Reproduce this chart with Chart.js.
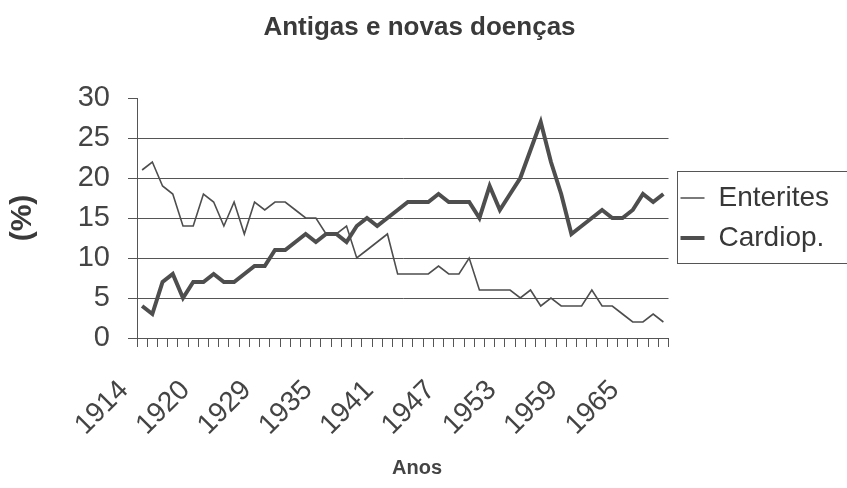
<!DOCTYPE html>
<html>
<head>
<meta charset="utf-8">
<title>Antigas e novas doenças</title>
<script src="https://cdn.jsdelivr.net/npm/chart.js@4/dist/chart.umd.min.js"></script>
<style>
  html, body { margin: 0; padding: 0; background: #fff; }
  #wrap { width: 847px; height: 488px; position: relative; }
</style>
</head>
<body>
<div id="wrap"><canvas id="chart"></canvas></div>
<script>
// years on the category axis (a few early years are missing from the series)
const years = [
  1914, 1915, 1916, 1917, 1918, 1919, 1920, 1924, 1925, 1926, 1927, 1928,
  1929, 1930, 1931, 1932, 1933, 1934, 1935, 1936, 1937, 1938, 1939, 1940,
  1941, 1942, 1943, 1944, 1945, 1946, 1947, 1948, 1949, 1950, 1951, 1952,
  1953, 1954, 1955, 1956, 1957, 1958, 1959, 1960, 1961, 1962, 1963, 1964,
  1965, 1966, 1967, 1968
];

// share of deaths (%)
const enterites = [
  21, 22, 19, 18, 14, 14, 18, 17, 14, 17, 13, 17,
  16, 17, 17, 16, 15, 15, 13, 13, 14, 10, 11, 12,
  13, 8, 8, 8, 8, 9, 8, 8, 10, 6, 6, 6,
  6, 5, 6, 4, 5, 4, 4, 4, 6, 4, 4, 3,
  2, 2, 3, 2
];
const cardiop = [
  4, 3, 7, 8, 5, 7, 7, 8, 7, 7, 8, 9,
  9, 11, 11, 12, 13, 12, 13, 13, 12, 14, 15, 14,
  15, 16, 17, 17, 17, 18, 17, 17, 17, 15, 19, 16,
  18, 20, 23.5, 27, 22, 18, 13, 14, 15, 16, 15, 15,
  16, 18, 17, 18
];

const yTicks = [0, 5, 10, 15, 20, 25, 30];
const labelEvery = 6;

const ink = '#444';
const lineInk = '#4e4e4e';
const fontFamily = '"Liberation Sans", Arial, sans-serif';
Chart.defaults.font.family = fontFamily;
Chart.defaults.color = ink;

// frame around the legend entries, plus the x axis caption
const extras = {
  id: 'extras',
  afterDraw(chart) {
    const ctx = chart.ctx;
    const boxes = chart.legend && chart.legend.legendHitBoxes;
    if (boxes && boxes.length) {
      let l = Infinity, t = Infinity, r = -Infinity, b = -Infinity;
      boxes.forEach(hb => {
        l = Math.min(l, hb.left); t = Math.min(t, hb.top);
        r = Math.max(r, hb.left + hb.width); b = Math.max(b, hb.top + hb.height);
      });
      ctx.save();
      ctx.strokeStyle = '#555';
      ctx.lineWidth = 1;
      ctx.strokeRect(Math.round(l - 4) + 0.5, Math.round(t - 13) + 0.5,
                     Math.round(r - l + 22), Math.round(b - t + 24));
      ctx.restore();
    }
    ctx.save();
    ctx.fillStyle = ink;
    ctx.font = 'bold 20px ' + fontFamily;
    ctx.textAlign = 'center';
    ctx.textBaseline = 'middle';
    ctx.fillText('Anos', 417, 468);
    ctx.restore();
  }
};

new Chart(document.getElementById('chart'), {
  type: 'line',
  data: {
    labels: years,
    datasets: [{
      label: 'Enterites',
      data: enterites,
      borderColor: lineInk,
      backgroundColor: lineInk,
      borderWidth: 1.6,
      pointRadius: 0,
      tension: 0
    }, {
      label: 'Cardiop.',
      data: cardiop,
      borderColor: lineInk,
      backgroundColor: lineInk,
      borderWidth: 4,
      pointRadius: 0,
      tension: 0
    }]
  },
  options: {
    responsive: true,
    maintainAspectRatio: false,
    animation: false,
    layout: { padding: { right: 8 } },
    plugins: {
      title: {
        display: true,
        text: 'Antigas e novas doenças',
        color: '#3a3a3a',
        font: { size: 26, weight: 'bold' },
        padding: { top: 12, bottom: 54.8 }
      },
      legend: {
        position: 'right',
        fullSize: false,
        labels: {
          usePointStyle: true,
          pointStyle: 'line',
          pointStyleWidth: 24,
          color: '#383838',
          font: { size: 28 },
          padding: 12
        }
      },
      tooltip: { enabled: false }
    },
    scales: {
      x: {
        offset: true,
        afterFit(scale) { scale.height = 150; },
        border: { display: true, color: '#555', width: 1 },
        grid: {
          offset: true,
          drawOnChartArea: false,
          drawTicks: true,
          tickLength: 9,
          tickColor: '#555'
        },
        ticks: {
          autoSkip: false,
          minRotation: 45,
          maxRotation: 45,
          padding: 27,
          labelOffset: -18,
          color: ink,
          font: { size: 28 },
          callback(value, index) {
            return index % labelEvery === 0 ? String(years[index]) : '';
          }
        },
        title: { display: false }
      },
      y: {
        min: 0,
        max: 30,
        afterFit(scale) { scale.width = 137; },
        afterBuildTicks(scale) { scale.ticks = yTicks.map(v => ({ value: v })); },
        border: { display: true, color: '#555', width: 1 },
        grid: {
          color: ctx => (ctx.tick && (ctx.tick.value === 30 || ctx.tick.value === 0)) ? 'rgba(0,0,0,0)' : '#555',
          tickColor: '#555',
          tickLength: 9,
          lineWidth: 1
        },
        ticks: {
          padding: 18,
          color: ink,
          font: { size: 29 }
        },
        title: {
          display: true,
          text: '(%)',
          color: '#3a3a3a',
          font: { size: 30, weight: 'bold' },
          padding: { top: 5, bottom: 0 }
        }
      }
    }
  },
  plugins: [extras]
});
</script>
</body>
</html>
